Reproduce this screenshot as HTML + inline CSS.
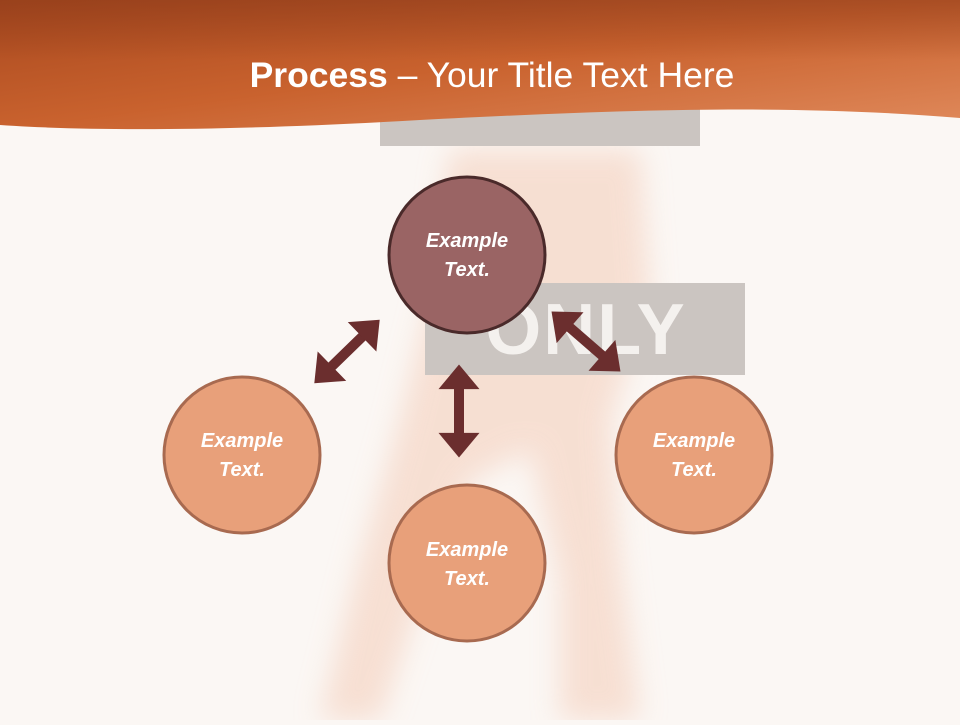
<!DOCTYPE html>
<html><head><meta charset="utf-8"><style>
body{margin:0;width:960px;height:720px;overflow:hidden;background:#fbf7f4;font-family:"Liberation Sans",sans-serif}
</style></head><body>
<svg width="960" height="720" viewBox="0 0 960 720" xmlns="http://www.w3.org/2000/svg">
<defs>
<linearGradient id="hg" x1="0" y1="0" x2="1" y2="1">
<stop offset="0" stop-color="#a8481e"/><stop offset="0.5" stop-color="#c9622e"/><stop offset="1" stop-color="#e08a5c"/>
</linearGradient>
<linearGradient id="hv" x1="0" y1="0" x2="0" y2="1">
<stop offset="0" stop-color="#8a3a1a" stop-opacity="0.5"/><stop offset="1" stop-color="#8a3a1a" stop-opacity="0"/>
</linearGradient>
<filter id="bl"><feGaussianBlur stdDeviation="14"/></filter>
<marker id="ah" viewBox="0 0 6 10" refX="1" refY="5" markerWidth="2.5" markerHeight="4.1" orient="auto-start-reverse">
<path d="M0,0 L6,5 L0,10 z" fill="#6b2e2e"/></marker>
</defs>
<rect width="960" height="720" fill="#fbf7f4"/>
<g filter="url(#bl)" fill="#f5d5c5" opacity="0.7">
<path d="M450,150 L640,150 L650,300 L610,420 L620,560 L640,720 L560,720 L560,580 L530,450 L470,480 L420,600 L380,720 L320,720 L360,560 L400,420 L430,300 Z"/>
</g>
<rect x="380" y="95" width="320" height="51" fill="#cbc5c1"/>
<rect x="425" y="283" width="320" height="92" fill="#cbc5c1"/>
<text x="586" y="354" font-size="72" font-weight="bold" fill="#f4f1ee" text-anchor="middle" font-family="Liberation Sans,sans-serif" letter-spacing="2">ONLY</text>
<path d="M0,0 H960 V118 C800,105 650,108 420,120 C250,130 100,132 0,125 Z" fill="url(#hg)"/>
<path d="M0,0 H960 V60 H0 Z" fill="url(#hv)"/>
<text x="492" y="87" font-size="35.5" fill="#fff" text-anchor="middle" font-family="Liberation Sans,DejaVu Sans,sans-serif"><tspan font-weight="bold">Process</tspan> – Your Title Text Here</text>
<g stroke="#6b2e2e" stroke-width="10" marker-start="url(#ah)" marker-end="url(#ah)">
<line x1="329" y1="369" x2="365" y2="334"/>
<line x1="459" y1="385" x2="459" y2="437"/>
<line x1="567" y1="325" x2="605" y2="358"/>
</g>
<g font-family="Liberation Sans,sans-serif" font-style="italic" font-weight="bold" font-size="20" fill="#fff" text-anchor="middle">
<circle cx="467" cy="255" r="78" fill="#9a6464" stroke="#4a2a2a" stroke-width="3"/>
<text x="467" y="247">Example</text><text x="467" y="276">Text.</text>
<circle cx="242" cy="455" r="78" fill="#e8a07a" stroke="#a86a50" stroke-width="3"/>
<text x="242" y="447">Example</text><text x="242" y="476">Text.</text>
<circle cx="694" cy="455" r="78" fill="#e8a07a" stroke="#a86a50" stroke-width="3"/>
<text x="694" y="447">Example</text><text x="694" y="476">Text.</text>
<circle cx="467" cy="563" r="78" fill="#e8a07a" stroke="#a86a50" stroke-width="3"/>
<text x="467" y="556">Example</text><text x="467" y="585">Text.</text>
</g>
</svg>
</body></html>
